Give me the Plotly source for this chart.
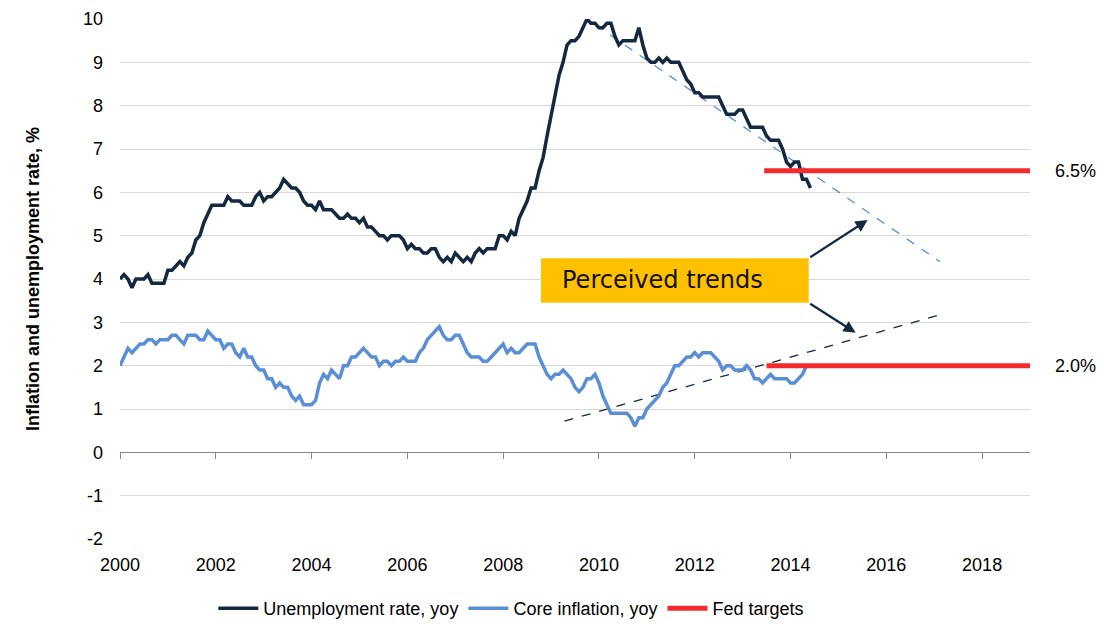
import plotly.graph_objects as go

# ---- data (monthly, Jan 2000 onward) ----
unemployment = [
    4.0, 4.1, 4.0, 3.8, 4.0, 4.0, 4.0, 4.1, 3.9, 3.9, 3.9, 3.9,  # 2000
    4.2, 4.2, 4.3, 4.4, 4.3, 4.5, 4.6, 4.9, 5.0, 5.3, 5.5, 5.7,  # 2001
    5.7, 5.7, 5.7, 5.9, 5.8, 5.8, 5.8, 5.7, 5.7, 5.7, 5.9, 6.0,  # 2002
    5.8, 5.9, 5.9, 6.0, 6.1, 6.3, 6.2, 6.1, 6.1, 6.0, 5.8, 5.7,  # 2003
    5.7, 5.6, 5.8, 5.6, 5.6, 5.6, 5.5, 5.4, 5.4, 5.5, 5.4, 5.4,  # 2004
    5.3, 5.4, 5.2, 5.2, 5.1, 5.0, 5.0, 4.9, 5.0, 5.0, 5.0, 4.9,  # 2005
    4.7, 4.8, 4.7, 4.7, 4.6, 4.6, 4.7, 4.7, 4.5, 4.4, 4.5, 4.4,  # 2006
    4.6, 4.5, 4.4, 4.5, 4.4, 4.6, 4.7, 4.6, 4.7, 4.7, 4.7, 5.0,  # 2007
    5.0, 4.9, 5.1, 5.0, 5.4, 5.6, 5.8, 6.1, 6.1, 6.5, 6.8, 7.3,  # 2008
    7.8, 8.3, 8.7, 9.0, 9.4, 9.5, 9.5, 9.6, 9.8, 10.0, 9.9, 9.9,  # 2009
    9.8, 9.8, 9.9, 9.9, 9.6, 9.4, 9.5, 9.5, 9.5, 9.5, 9.8, 9.4,  # 2010
    9.1, 9.0, 9.0, 9.1, 9.0, 9.1, 9.0, 9.0, 9.0, 8.8, 8.6, 8.5,  # 2011
    8.3, 8.3, 8.2, 8.2, 8.2, 8.2, 8.2, 8.0, 7.8, 7.8, 7.8, 7.9,  # 2012
    7.9, 7.7, 7.5, 7.5, 7.5, 7.5, 7.3, 7.2, 7.2, 7.2, 7.0, 6.7,  # 2013
    6.6, 6.7, 6.7, 6.3, 6.3, 6.1,                                # 2014
]

core_inflation = [
    2.0, 2.2, 2.4, 2.3, 2.4, 2.5, 2.5, 2.6, 2.6, 2.5, 2.6, 2.6,  # 2000
    2.6, 2.7, 2.7, 2.6, 2.5, 2.7, 2.7, 2.7, 2.6, 2.6, 2.8, 2.7,  # 2001
    2.6, 2.6, 2.4, 2.5, 2.5, 2.3, 2.2, 2.4, 2.2, 2.2, 2.0, 1.9,  # 2002
    1.9, 1.7, 1.7, 1.5, 1.6, 1.5, 1.5, 1.3, 1.2, 1.3, 1.1, 1.1,  # 2003
    1.1, 1.2, 1.6, 1.8, 1.7, 1.9, 1.8, 1.7, 2.0, 2.0, 2.2, 2.2,  # 2004
    2.3, 2.4, 2.3, 2.2, 2.2, 2.0, 2.1, 2.1, 2.0, 2.1, 2.1, 2.2,  # 2005
    2.1, 2.1, 2.1, 2.3, 2.4, 2.6, 2.7, 2.8, 2.9, 2.7, 2.6, 2.6,  # 2006
    2.7, 2.7, 2.5, 2.3, 2.2, 2.2, 2.2, 2.1, 2.1, 2.2, 2.3, 2.4,  # 2007
    2.5, 2.3, 2.4, 2.3, 2.3, 2.4, 2.5, 2.5, 2.5, 2.2, 2.0, 1.8,  # 2008
    1.7, 1.8, 1.8, 1.9, 1.8, 1.7, 1.5, 1.4, 1.5, 1.7, 1.7, 1.8,  # 2009
    1.6, 1.3, 1.1, 0.9, 0.9, 0.9, 0.9, 0.9, 0.8, 0.6, 0.8, 0.8,  # 2010
    1.0, 1.1, 1.2, 1.3, 1.5, 1.6, 1.8, 2.0, 2.0, 2.1, 2.2, 2.2,  # 2011
    2.3, 2.2, 2.3, 2.3, 2.3, 2.2, 2.1, 1.9, 2.0, 2.0, 1.9, 1.9,  # 2012
    1.9, 2.0, 1.9, 1.7, 1.7, 1.6, 1.7, 1.8, 1.7, 1.7, 1.7, 1.7,  # 2013
    1.6, 1.6, 1.7, 1.8, 2.0,                                     # 2014
]

start_year = 2000
unemp_x = [start_year + i / 12 for i in range(len(unemployment))]
infl_x = [start_year + i / 12 for i in range(len(core_inflation))]

# Fed targets
target_levels = [6.5, 2.0]
target_starts = [2013.45, 2013.5]
target_end = 2019.0
target_labels = ["6.5%", "2.0%"]

# perceived trend lines (endpoints)
unemp_trend_x = [2009.92, 2017.12]
unemp_trend_y = [9.87, 4.40]
infl_trend_x = [2009.28, 2017.17]
infl_trend_y = [0.72, 3.19]

x_ticks = list(range(2000, 2019, 2))
y_ticks = list(range(-2, 11))
y_tick_labels = [str(v) for v in y_ticks]

NAVY = "#14283F"
BLUE = "#5A8FD6"
RED = "#F42B2E"

fig = go.Figure()

fig.add_trace(go.Scatter(x=unemp_trend_x, y=unemp_trend_y, mode="lines",
                         line=dict(color=BLUE, width=1.3, dash="dash"),
                         showlegend=False, hoverinfo="skip"))
fig.add_trace(go.Scatter(x=infl_trend_x, y=infl_trend_y, mode="lines",
                         line=dict(color=NAVY, width=1.3, dash="dash"),
                         showlegend=False, hoverinfo="skip"))

fig.add_trace(go.Scatter(x=unemp_x, y=unemployment, mode="lines",
                         name="Unemployment rate, yoy",
                         line=dict(color=NAVY, width=3.5)))
fig.add_trace(go.Scatter(x=infl_x, y=core_inflation, mode="lines",
                         name="Core inflation, yoy",
                         line=dict(color=BLUE, width=3.5)))

tx, ty = [], []
for s, lvl in zip(target_starts, target_levels):
    tx += [s, target_end, None]
    ty += [lvl, lvl, None]
fig.add_trace(go.Scatter(x=tx, y=ty, mode="lines", name="Fed targets",
                         line=dict(color=RED, width=5), xaxis="x2"))

annotations = []
for lvl, lab in zip(target_levels, target_labels):
    annotations.append(dict(x=1.05, xref="paper", y=lvl, yref="y", text=lab,
                            showarrow=False, xanchor="center",
                            font=dict(family="Liberation Sans", size=18, color="#000")))

box_x0, box_x1 = 2008.79, 2014.38
box_y0, box_y1 = 3.45, 4.48
annotations.append(dict(x=(box_x0 + box_x1) / 2 - 0.25, y=(box_y0 + box_y1) / 2 + 0.02,
                        xref="x", yref="y", text="Perceived trends",
                        showarrow=False,
                        font=dict(family="DejaVu Sans", size=24, color="#111")))
annotations.append(dict(x=2015.61, y=5.36, ax=box_x1, ay=box_y1,
                        xref="x", yref="y", axref="x", ayref="y", text="",
                        showarrow=True, arrowhead=2, arrowsize=1.1,
                        arrowwidth=2.2, arrowcolor=NAVY))
annotations.append(dict(x=2015.36, y=2.76, ax=box_x1, ay=box_y0,
                        xref="x", yref="y", axref="x", ayref="y", text="",
                        showarrow=True, arrowhead=2, arrowsize=1.1,
                        arrowwidth=2.2, arrowcolor=NAVY))

fig.update_layout(
    width=1104, height=634,
    margin=dict(l=120, r=74, t=19, b=95, autoexpand=False),
    paper_bgcolor="white", plot_bgcolor="white",
    font=dict(family="Liberation Sans", size=18, color="#000"),
    shapes=[dict(type="rect", xref="x", yref="y", x0=box_x0, x1=box_x1,
                 y0=box_y0, y1=box_y1, fillcolor="#FFC000", line=dict(width=0),
                 layer="above")],
    annotations=annotations,
    xaxis=dict(range=[2000, 2019], tickvals=x_ticks, showgrid=False,
               showline=False, zeroline=False, ticks="",
               ticklabelstandoff=13, automargin=False,
               tickfont=dict(family="Liberation Sans", size=18)),
    xaxis2=dict(range=[2000, 2019], overlaying="x", anchor="free",
                position=2 / 12, showgrid=False, showline=True,
                linecolor="#888888", linewidth=1, ticks="outside",
                tickvals=x_ticks, ticklen=6, tickcolor="#888888",
                showticklabels=False, zeroline=False, automargin=False),
    yaxis=dict(range=[-2, 10], tickvals=y_ticks, ticktext=y_tick_labels,
               showgrid=True, gridcolor="#D9D9D9",
               gridwidth=1, zeroline=False, showline=False,
               ticklabelstandoff=16, domain=[0, 1], automargin=False,
               tickfont=dict(family="Liberation Sans", size=18),
               title=dict(text="<b>Inflation and unemployment rate, %</b>",
                          font=dict(family="Liberation Sans", size=18),
                          standoff=38)),
    legend=dict(orientation="h", x=0.43, xanchor="center", y=-0.098,
                yanchor="top",
                font=dict(family="Liberation Sans", size=18),
                itemwidth=40, traceorder="normal"),
)

fig.write_html("out.html", config={"displayModeBar": False},
               post_script="document.body.style.margin='0';")
